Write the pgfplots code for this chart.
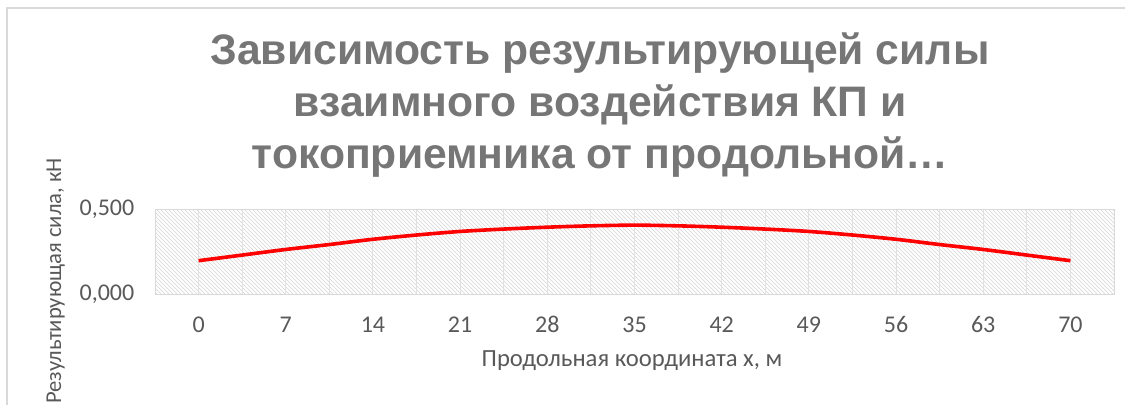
\documentclass[border=0pt]{standalone}
\usepackage{pgfplots}
\pgfplotsset{compat=1.18}
\usetikzlibrary{patterns}
\usepackage{fontspec}
\setmainfont{Carlito}
\newfontfamily\titlefont{Liberation Sans}
\definecolor{titlegray}{RGB}{118,118,118}
\definecolor{txtgray}{RGB}{89,89,89}
\definecolor{gridgray}{RGB}{217,217,217}
\definecolor{hatchgray}{RGB}{212,212,212}
\begin{document}
\begin{tikzpicture}[x=0.75pt,y=-0.75pt]
\useasboundingbox (0,0) rectangle (1131,405);
\draw[gridgray, line width=1.5pt] (7,405) -- (7,8) -- (1125,8);
\begin{scope}[every node/.style={anchor=base, text=titlegray, font=\titlefont\bfseries\fontsize{32}{38}\selectfont}]
\node at (600,64) {Зависимость результирующей силы};
\node at (600,116) {взаимного воздействия КП и};
\node at (600,168) {токоприемника от продольной…};
\end{scope}
\begin{axis}[at={(116.25pt,-220.5pt)}, anchor=south west, scale only axis,
  width=719.25pt, height=63.75pt,
  xmin=-3.5, xmax=73.5, ymin=0, ymax=0.5,
  xtick={0,7,...,70}, minor x tick num=1,
  xmajorgrids, xminorgrids,
  ytick={0,0.5},
  major tick length=0pt, minor tick length=0pt,
  axis line style={draw=gridgray, line width=0.75pt},
  grid style={draw=gridgray!80, line width=0.75pt},
  minor grid style={draw=gridgray!80, line width=0.75pt},
  /pgf/number format/assume math mode=true,
  tick label style={font=\fontsize{18}{21}\selectfont, text=txtgray},
  xticklabel style={anchor=base, yshift=-29pt},
  yticklabel style={xshift=-12pt, /pgf/number format/.cd, fixed, fixed zerofill, precision=3, use comma},
  axis background/.style={pattern=north west lines, pattern color=hatchgray},
  clip=false]
\addplot[color=red, line width=2.7pt, smooth] coordinates {
(0,0.196) (3.5,0.229) (7,0.262) (10.5,0.291) (14,0.322) (17.5,0.347)
(21,0.368) (24.5,0.382) (28,0.393) (31.5,0.401) (35,0.405)
(38.5,0.401) (42,0.393) (45.5,0.382) (49,0.368) (52.5,0.347)
(56,0.322) (59.5,0.291) (63,0.262) (66.5,0.229) (70,0.196)};
\end{axis}
\node[rotate=90, anchor=base, text=txtgray, font=\fontsize{17}{20}\selectfont] at (61,281) {Результирующая сила, кН};
\node[anchor=base, text=txtgray, font=\fontsize{18.5}{22}\selectfont] at (632,366) {Продольная координата x, м};
\end{tikzpicture}
\end{document}
